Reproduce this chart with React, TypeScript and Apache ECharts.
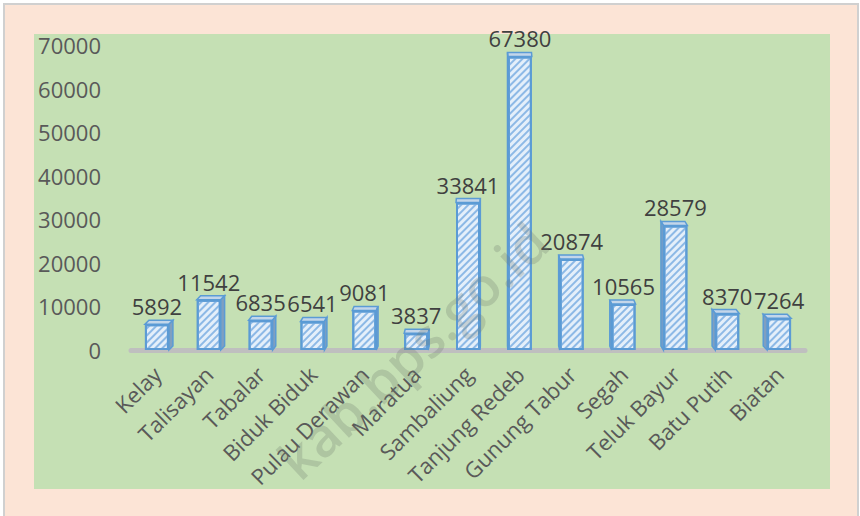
import React, { useEffect, useRef } from "react";
import * as echarts from "echarts";

const categories = [
  "Kelay", "Talisayan", "Tabalar", "Biduk Biduk", "Pulau Derawan", "Maratua",
  "Sambaliung", "Tanjung Redeb", "Gunung Tabur", "Segah", "Teluk Bayur", "Batu Putih", "Biatan",
];
const values = [5892, 11542, 6835, 6541, 9081, 3837, 33841, 67380, 20874, 10565, 28579, 8370, 7264];
const yTicks = { min: 0, max: 70000, interval: 10000 };

const FONT = "'Open Sans', 'Noto Sans', sans-serif";
const BAR_W = 24;

export default function App() {
  const ref = useRef<HTMLDivElement>(null);
  useEffect(() => {
    if (!ref.current) return;
    const chart = echarts.init(ref.current, null, { renderer: "svg" });
    chart.setOption({
      animation: false,
      backgroundColor: "#ffffff",
      graphic: [
        {
          type: "rect",
          z: -10,
          silent: true,
          shape: { x: 4, y: 4, width: 854, height: 520 },
          style: { fill: "#fce4d6", stroke: "#d0d0d0", lineWidth: 2 },
        },
        {
          type: "rect",
          z: -9,
          silent: true,
          shape: { x: 34, y: 34, width: 796, height: 455 },
          style: { fill: "#c5e0b4" },
        },
        {
          type: "text",
          z: 100,
          silent: true,
          x: 412,
          y: 350,
          rotation: (43 * Math.PI) / 180,
          style: {
            text: "kab.bps.go.id",
            fill: "rgba(110,120,110,0.26)",
            font: "600 54px 'Open Sans', sans-serif",
            align: "center",
            verticalAlign: "middle",
          },
        },
      ],
      grid: { left: 131, right: 55, top: 45, bottom: 166 },
      xAxis: {
        type: "category",
        data: categories,
        axisTick: { show: false },
        axisLine: { show: true, lineStyle: { color: "#bfbfbf", width: 5 } },
        axisLabel: {
          rotate: 45,
          margin: 20,
          color: "#595959",
          fontFamily: FONT,
          fontSize: 22,
          interval: 0,
        },
      },
      yAxis: {
        type: "value",
        min: yTicks.min,
        max: yTicks.max,
        interval: yTicks.interval,
        splitLine: { show: false },
        axisLine: { show: false },
        axisTick: { show: false },
        axisLabel: {
          color: "#595959",
          fontFamily: FONT,
          fontSize: 22,
          margin: 30,
          formatter: (v: number) => String(v),
        },
      },
      series: [
        {
          type: "custom",
          z: 1,
          silent: true,
          data: values.map((v, i) => [i, v]),
          encode: { x: 0, y: 1 },
          renderItem: (params: any, api: any) => {
            const i = api.value(0);
            const v = api.value(1);
            const top = api.coord([i, v]);
            const base = api.coord([i, 0]);
            const x0 = top[0] - BAR_W / 2;
            const x1 = top[0] + BAR_W / 2;
            const dx = Math.max(-4, Math.min(4, (6.5 - i) * 0.7));
            const dy = -4;
            const children: any[] = [
              {
                type: "polygon",
                shape: {
                  points: [
                    [x0, top[1]], [x1, top[1]], [x1 + dx, top[1] + dy], [x0 + dx, top[1] + dy],
                  ],
                },
                style: { fill: "#c3d6ea", stroke: "#5b9bd5", lineWidth: 1.5 },
              },
            ];
            const sx = dx >= 0 ? x1 : x0;
            children.push({
              type: "polygon",
              shape: {
                points: [
                  [sx, top[1]], [sx + dx, top[1] + dy], [sx + dx, base[1] + dy], [sx, base[1]],
                ],
              },
              style: { fill: "#7f9fc0", stroke: "#5b9bd5", lineWidth: 1.5 },
            });
            return { type: "group", children };
          },
        },
        {
          type: "bar",
          z: 2,
          data: values,
          barWidth: BAR_W,
          itemStyle: {
            color: "#e4effa",
            borderColor: "#5b9bd5",
            borderWidth: 2,
            decal: {
              symbol: "rect",
              color: "#8db9e6",
              dashArrayX: [1, 0],
              dashArrayY: [2, 3],
              rotation: -Math.PI / 4,
            },
          },
          label: {
            show: true,
            position: "top",
            distance: 7,
            color: "#404040",
            fontFamily: FONT,
            fontSize: 22,
          },
        },
      ],
    });
    return () => chart.dispose();
  }, []);
  return (
    <div
      ref={ref}
      style={{ position: "fixed", left: 0, top: 0, width: 860, height: 516 }}
    />
  );
}
